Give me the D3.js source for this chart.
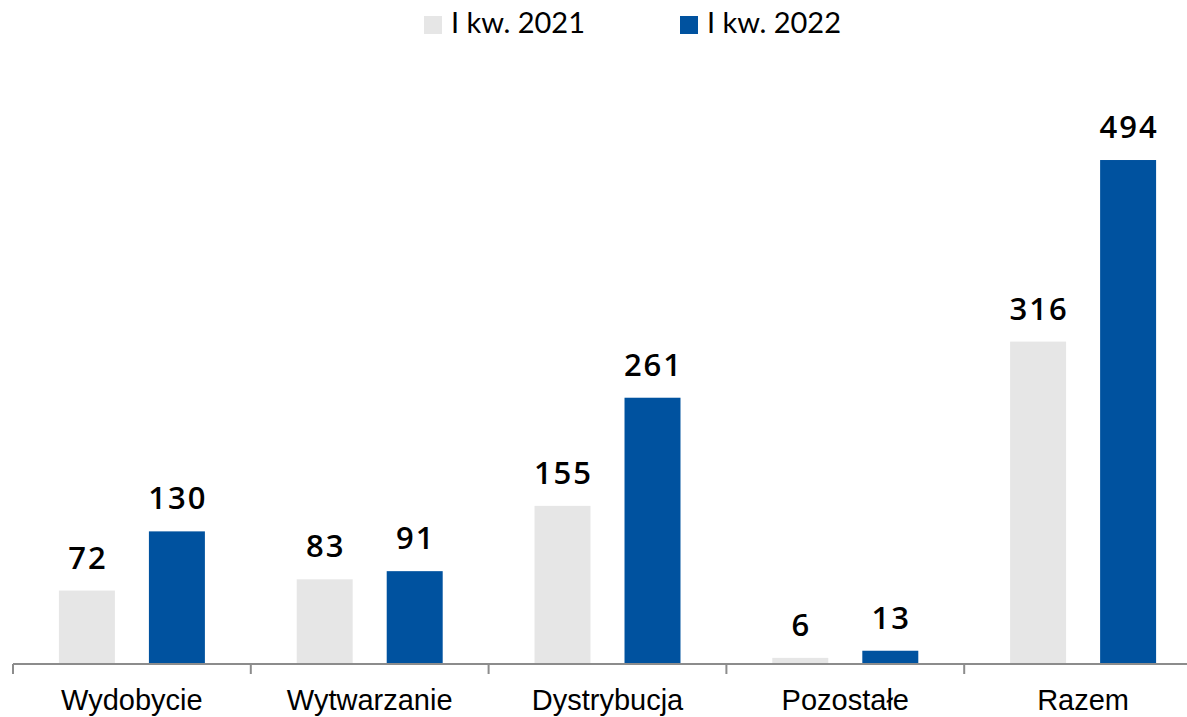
<!DOCTYPE html>
<html>
<head>
<meta charset="utf-8">
<script src="https://cdn.jsdelivr.net/npm/d3@7"></script>
<style>
  html, body { margin: 0; padding: 0; background: #ffffff; }
  svg { display: block; }
</style>
</head>
<body>
<svg id="chart" width="1187" height="717"></svg>
<script>
// Categories and values (two periods)
const categories = ["Wydobycie", "Wytwarzanie", "Dystrybucja", "Pozostałe", "Razem"];
const seriesNames = ["I kw. 2021", "I kw. 2022"];
const values2021 = [72, 83, 155, 6, 316];
const values2022 = [130, 91, 261, 13, 494];
const seriesColors = ["#e6e6e6", "#00529f"];

const rows = categories.map((c, i) => ({
  category: c,
  values: [
    { series: seriesNames[0], value: values2021[i], color: seriesColors[0] },
    { series: seriesNames[1], value: values2022[i], color: seriesColors[1] }
  ]
}));

const svg = d3.select("#chart");
const width = 1187, height = 717;
const axisY = 664;

const x0 = d3.scaleBand()
  .domain(categories)
  .range([13, 1202])
  .paddingInner(0)
  .paddingOuter(0);

const x1 = d3.scaleBand()
  .domain(seriesNames)
  .range([0, x0.bandwidth()])
  .paddingInner(0.378)
  .paddingOuter(0.51);

const y = d3.scaleLinear()
  .domain([0, 550])
  .range([axisY, axisY - 550 * 1.0202]);

// Bars
const groups = svg.append("g")
  .selectAll("g")
  .data(rows)
  .join("g")
  .attr("transform", d => `translate(${x0(d.category)},0)`);

groups.selectAll("rect")
  .data(d => d.values)
  .join("rect")
  .attr("x", d => x1(d.series))
  .attr("width", x1.bandwidth())
  .attr("y", d => y(d.value))
  .attr("height", d => y(0) - y(d.value))
  .attr("fill", d => d.color);

// Value labels
groups.selectAll("text.val")
  .data(d => d.values)
  .join("text")
  .attr("class", "val")
  .attr("x", d => x1(d.series) + x1.bandwidth() / 2 + 1)
  .attr("y", d => y(d.value) - 22)
  .attr("text-anchor", "middle")
  .style("font-family", "'Open Sans', sans-serif")
  .style("font-weight", 600)
  .style("font-size", "31px")
  .style("letter-spacing", "2px")
  .style("fill", "#000")
  .text(d => d.value);

// Category axis
const axis = d3.axisBottom(x0).tickSize(0).tickFormat("");
const axisG = svg.append("g")
  .attr("transform", `translate(0,${axisY})`)
  .call(axis);
axisG.select(".domain").remove();
axisG.selectAll(".tick").remove();

axisG.append("line")
  .attr("x1", 13).attr("x2", width)
  .attr("y1", 0).attr("y2", 0)
  .attr("stroke", "#8c8c8c")
  .attr("stroke-width", 2);

// Separator ticks at category boundaries
const boundaries = categories.map(c => x0(c));
axisG.selectAll("line.sep")
  .data(boundaries)
  .join("line")
  .attr("class", "sep")
  .attr("x1", d => d).attr("x2", d => d)
  .attr("y1", 0).attr("y2", 10)
  .attr("stroke", "#8c8c8c")
  .attr("stroke-width", 2);

axisG.selectAll("text.cat")
  .data(categories)
  .join("text")
  .attr("class", "cat")
  .attr("x", d => x0(d) + x0.bandwidth() / 2)
  .attr("y", 710 - axisY)
  .attr("text-anchor", "middle")
  .style("font-family", "'Liberation Sans', Arial, sans-serif")
  .style("font-size", "29px")
  .style("fill", "#000")
  .text(d => d);

// Legend
const legendItems = [
  { name: seriesNames[0], color: seriesColors[0], x: 424, tx: 451 },
  { name: seriesNames[1], color: seriesColors[1], x: 680, tx: 707 }
];
const legend = svg.append("g");
legend.selectAll("rect")
  .data(legendItems)
  .join("rect")
  .attr("x", d => d.x)
  .attr("y", 16)
  .attr("width", 18)
  .attr("height", 18)
  .attr("fill", d => d.color);
legend.selectAll("text")
  .data(legendItems)
  .join("text")
  .attr("x", d => d.tx)
  .attr("y", 33)
  .style("font-family", "Lato, 'Open Sans', sans-serif")
  .style("font-size", "29px")
  .style("fill", "#000")
  .text(d => d.name);
</script>
</body>
</html>
